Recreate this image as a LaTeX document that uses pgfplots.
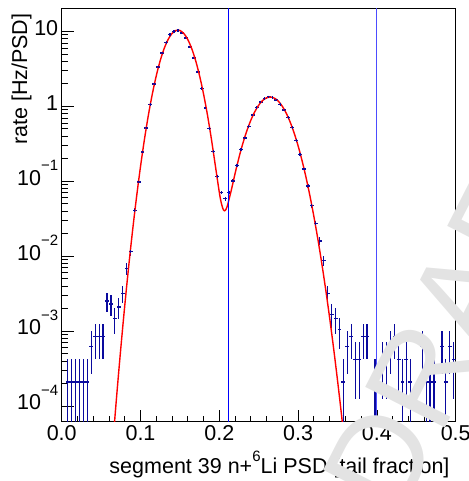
\documentclass[border=0pt]{standalone}
\usepackage{fontspec}
\setmainfont{Liberation Sans}
\usepackage{pgfplots}
\usepackage{pgfplotstable}
\pgfplotsset{compat=1.18}
\definecolor{histblue}{HTML}{0A0A9E}
\definecolor{cutblue}{HTML}{0000FF}
\newcommand{\sexp}[1]{\raisebox{0.68em}{\fontsize{15}{15}\selectfont #1}}

% bin centre, rate, error up, error down (1 count = 2.1e-4 Hz/PSD)
\pgfplotstableread{
x       y        ep       em
0.0075  2.1e-4   2.1e-4   2.09e-4
0.0125  2.1e-4   2.1e-4   2.09e-4
0.0175  2.1e-4   2.1e-4   2.09e-4
0.0225  2.1e-4   2.1e-4   2.09e-4
0.0275  2.1e-4   2.1e-4   2.09e-4
0.0325  2.1e-4   2.1e-4   2.09e-4
0.0375  6.3e-4   3.64e-4  3.64e-4
0.0425  8.4e-4   4.2e-4   4.19e-4
0.0475  8.4e-4   4.2e-4   4.19e-4
0.0525  8.4e-4   4.2e-4   4.19e-4
0.0575  2.52e-3  7.27e-4  7.27e-4
0.0625  2.31e-3  6.96e-4  6.96e-4
0.0675  1.47e-3  5.56e-4  5.56e-4
0.0725  2.10e-3  6.64e-4  6.64e-4
0.0775  3.20e-3  8.2e-4   8.2e-4
0.0825  6.9e-3   1.2e-3   1.2e-3
0.0875  0.0117   1.57e-3  1.57e-3
0.0925  0.041    2.93e-3  2.93e-3
0.0975  0.098    4.54e-3  4.54e-3
0.1025  0.246    7.19e-3  7.19e-3
0.1075  0.514    0.0104   0.0104
0.1125  1.05     0.0149   0.0149
0.1175  1.98     0.0204   0.0204
0.1225  3.34     0.0265   0.0265
0.1275  5.14     0.0329   0.0329
0.1325  7.13     0.0387   0.0387
0.1375  9.03     0.0435   0.0435
0.1425  10.0     0.0458   0.0458
0.1475  10.3     0.0465   0.0465
0.1525  9.5      0.0447   0.0447
0.1575  8.15     0.0414   0.0414
0.1625  6.18     0.036    0.036
0.1675  4.41     0.0304   0.0304
0.1725  2.87     0.0245   0.0245
0.1775  1.72     0.019    0.019
0.1825  0.95     0.0141   0.0141
0.1875  0.504    0.0103   0.0103
0.1925  0.251    7.26e-3  7.26e-3
0.1975  0.117    4.96e-3  4.96e-3
0.2025  0.0707   3.85e-3  3.85e-3
0.2075  0.0588   3.51e-3  3.51e-3
0.2125  0.0707   3.85e-3  3.85e-3
0.2175  0.101    4.6e-3   4.6e-3
0.2225  0.163    5.85e-3  5.85e-3
0.2275  0.264    7.45e-3  7.45e-3
0.2325  0.378    8.91e-3  8.91e-3
0.2375  0.54     0.0107   0.0107
0.2425  0.766    0.0127   0.0127
0.2475  0.96     0.0142   0.0142
0.2525  1.14     0.0155   0.0155
0.2575  1.26     0.0163   0.0163
0.2625  1.33     0.0167   0.0167
0.2675  1.31     0.0166   0.0166
0.2725  1.21     0.0159   0.0159
0.2775  1.07     0.0150   0.0150
0.2825  0.893    0.0137   0.0137
0.2875  0.706    0.0122   0.0122
0.2925  0.52     0.0105   0.0105
0.2975  0.349    8.56e-3  8.56e-3
0.3025  0.229    6.93e-3  6.93e-3
0.3075  0.146    5.54e-3  5.54e-3
0.3125  0.0867   4.27e-3  4.27e-3
0.3175  0.0474   3.16e-3  3.16e-3
0.3225  0.0273   2.39e-3  2.39e-3
0.3275  0.0160   1.83e-3  1.83e-3
0.3325  8.85e-3  1.36e-3  1.36e-3
0.3375  3.18e-3  8.17e-4  8.17e-4
0.3425  1.68e-3  5.94e-4  5.94e-4
0.3475  1.47e-3  5.56e-4  5.56e-4
0.3525  1.05e-3  4.7e-4   4.7e-4
0.3575  2.1e-4   2.1e-4   2.09e-4
0.3625  6.3e-4   3.64e-4  3.64e-4
0.3675  8.4e-4   4.2e-4   4.19e-4
0.3725  4.2e-4   2.97e-4  2.97e-4
0.3775  4.2e-4   2.97e-4  2.97e-4
0.3825  8.4e-4   4.2e-4   4.19e-4
0.3875  8.4e-4   4.2e-4   4.19e-4
0.3975  2.1e-4   2.1e-4   2.09e-4
0.4075  4.2e-4   2.97e-4  2.97e-4
0.4125  4.2e-4   2.97e-4  2.97e-4
0.4175  6.3e-4   3.64e-4  3.64e-4
0.4225  8.4e-4   4.2e-4   4.19e-4
0.4275  4.2e-4   2.97e-4  2.97e-4
0.4325  2.1e-4   2.1e-4   2.09e-4
0.4375  4.2e-4   2.97e-4  2.97e-4
0.4425  2.1e-4   2.1e-4   2.09e-4
0.4575  6.3e-4   3.64e-4  3.64e-4
0.4625  2.1e-4   2.1e-4   2.09e-4
0.4675  2.1e-4   2.1e-4   2.09e-4
0.4725  2.1e-4   2.1e-4   2.09e-4
0.4825  6.3e-4   3.64e-4  3.64e-4
0.4875  2.1e-4   2.1e-4   2.09e-4
0.4925  6.3e-4   3.64e-4  3.64e-4
0.4975  4.2e-4   2.97e-4  2.97e-4
}\hist

% fitted curve
\pgfplotstableread{
x       y
0.065   3.32e-5
0.070   1.47e-4
0.075   5.93e-4
0.080   2.18e-3
0.085   7.30e-3
0.090   0.02226
0.095   0.0619
0.100   0.1568
0.105   0.362
0.110   0.762
0.115   1.459
0.120   2.550
0.125   4.06
0.130   5.89
0.135   7.78
0.140   9.37
0.145   10.28
0.1475  10.4
0.150   10.28
0.155   9.37
0.160   7.78
0.165   5.89
0.170   4.06
0.175   2.550
0.180   1.459
0.185   0.763
0.190   0.364
0.195   0.161
0.200   0.0713
0.2025  0.0513
0.205   0.0420
0.2065  0.0404
0.2075  0.0408
0.210   0.0461
0.215   0.0743
0.220   0.1267
0.225   0.208
0.230   0.3227
0.235   0.4724
0.240   0.651
0.245   0.846
0.250   1.0356
0.255   1.1946
0.260   1.298
0.265   1.3296
0.270   1.283
0.275   1.1665
0.280   0.9994
0.285   0.8067
0.290   0.6136
0.295   0.4397
0.300   0.2970
0.305   0.1890
0.310   0.1133
0.315   0.0640
0.320   0.0340
0.325   0.01708
0.330   8.08e-3
0.335   3.60e-3
0.340   1.51e-3
0.345   5.96e-4
0.350   2.22e-4
0.355   7.8e-5
0.360   2.58e-5
}\fit

\begin{document}
\begin{tikzpicture}[x=1pt,y=1pt]
\useasboundingbox (0,0) rectangle (468,481);
\begin{axis}[
  at={(61.7pt,59.3pt)}, anchor=south west,
  scale only axis, width=394pt, height=413.4pt,
  xmin=0, xmax=0.5,
  ymode=log, ymin=6.2e-5, ymax=20.3,
  xtick={0,0.1,0.2,0.3,0.4,0.5},
  xticklabels={0.0,0.1,0.2,0.3,0.4,0.5},
  minor x tick num=4,
  ytick={1e-4,1e-3,1e-2,1e-1,1,10},
  yticklabels={10\sexp{−4},10\sexp{−3},10\sexp{−2},10\sexp{−1},1\hspace{0.28em},10},
  yminorticks=true,
  xtick pos=left, ytick pos=left,
  major tick length=12pt, minor tick length=6pt,
  tick style={black, line width=0.8pt},
  axis line style={black, line width=0.9pt},
  ticklabel style={font=\fontsize{21.5}{24}\selectfont},
  yticklabel style={anchor=base east, yshift=-0.38em},
]
\addplot[only marks, mark=|, mark size=1.4pt, histblue, line width=1.2pt,
  error bars/.cd, x dir=both, x fixed=0.0025, y dir=both, y explicit,
  error mark=none, error bar style={line width=1.2pt, histblue}]
  table[x=x, y=y, y error plus=ep, y error minus=em] {\hist};
\addplot[draw=red, line width=1.4pt, smooth, mark=none] table[x=x, y=y] {\fit};
\addplot[draw=cutblue, line width=0.9pt, mark=none] coordinates {(0.211,6.2e-5) (0.211,20.3)};
\addplot[draw=cutblue!70, line width=1pt, mark=none] coordinates {(0.3995,6.2e-5) (0.3995,20.3)};
\end{axis}
\node[rotate=90, anchor=base east, font=\fontsize{21.5}{24}\selectfont] at (27,471) {rate [Hz/PSD]};
\node[anchor=base east, font=\fontsize{21.5}{24}\selectfont] at (453,8)
  {segment 39 n+\raisebox{0.55em}{\fontsize{15}{15}\selectfont 6}Li PSD [tail fraction]};
\node[rotate=63, anchor=base west, text=black!11, font=\fontsize{130}{130}\selectfont, inner sep=0pt]
  at (398,-40) {DRAFT};
\end{tikzpicture}
\end{document}
